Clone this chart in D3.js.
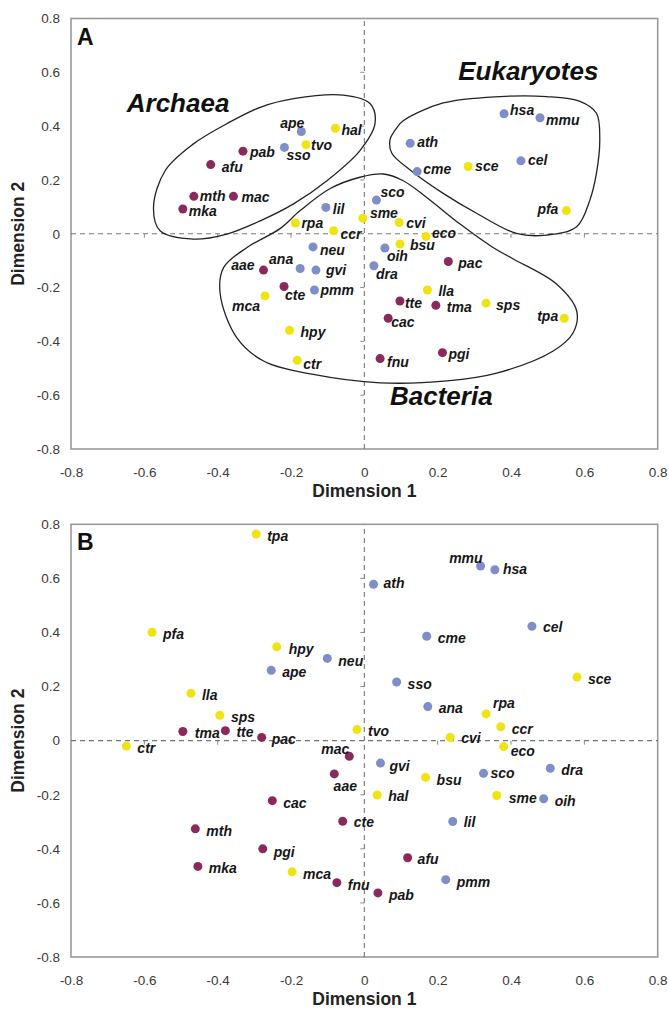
<!DOCTYPE html>
<html>
<head>
<meta charset="utf-8">
<script src="https://cdn.jsdelivr.net/npm/d3@7"></script>
<style>
  html, body { margin: 0; padding: 0; background: #fff; }
  svg { display: block; font-family: "Liberation Sans", Arial, Helvetica, sans-serif; }
</style>
</head>
<body>
<svg id="chart" width="669" height="1010"></svg>
<script>
// ---------------- DATA ----------------
const organisms = ["afu","pab","mth","mac","mka","aae","cte","tte","tma","cac","pac","pgi","fnu",
  "ape","sso","lil","neu","ana","gvi","pmm","oih","dra","sco","hsa","mmu","ath","cme","cel",
  "hal","tvo","rpa","ccr","sme","cvi","eco","bsu","lla","sps","tpa","mca","hpy","ctr","sce","pfa"];
const colorClass = ["c1","c1","c1","c1","c1","c1","c1","c1","c1","c1","c1","c1","c1",
  "c2","c2","c2","c2","c2","c2","c2","c2","c2","c2","c2","c2","c2","c2","c2",
  "c3","c3","c3","c3","c3","c3","c3","c3","c3","c3","c3","c3","c3","c3","c3","c3"];
// Panel A
const dimA1 = [-0.419,-0.331,-0.465,-0.357,-0.495,-0.275,-0.219,0.097,0.195,0.065,0.229,0.213,0.043,
  -0.172,-0.218,-0.105,-0.140,-0.175,-0.132,-0.136,0.056,0.026,0.033,0.381,0.479,0.125,0.144,0.427,
  -0.079,-0.159,-0.188,-0.084,-0.004,0.095,0.168,0.097,0.172,0.332,0.545,-0.271,-0.204,-0.183,0.283,0.551];
const dimA2 = [0.257,0.307,0.139,0.139,0.092,-0.135,-0.196,-0.250,-0.266,-0.314,-0.103,-0.442,-0.464,
  0.380,0.321,0.098,-0.049,-0.129,-0.135,-0.209,-0.053,-0.119,0.125,0.446,0.431,0.336,0.231,0.271,
  0.392,0.331,0.040,0.011,0.058,0.042,-0.010,-0.038,-0.209,-0.258,-0.314,-0.231,-0.359,-0.470,0.250,0.086];
// Panel B
const dimB1 = [0.118,0.037,-0.461,-0.041,-0.454,-0.082,-0.059,-0.379,-0.495,-0.251,-0.280,-0.277,-0.075,
  -0.254,0.088,0.241,-0.101,0.173,0.044,0.222,0.489,0.507,0.325,0.356,0.317,0.025,0.170,0.457,
  0.035,-0.020,0.332,0.372,0.361,0.234,0.380,0.167,-0.473,-0.394,-0.295,-0.197,-0.239,-0.649,0.580,-0.579];
const dimB2 = [-0.433,-0.563,-0.326,-0.058,-0.465,-0.123,-0.298,0.037,0.034,-0.222,0.012,-0.400,-0.525,
  0.260,0.217,-0.299,0.304,0.126,-0.083,-0.514,-0.215,-0.102,-0.121,0.632,0.646,0.578,0.386,0.423,
  -0.201,0.041,0.099,0.051,-0.203,0.012,-0.022,-0.136,0.175,0.094,0.764,-0.485,0.347,-0.020,0.235,0.401];

const tickValues = [-0.8,-0.6,-0.4,-0.2,0,0.2,0.4,0.6,0.8];
const tickLabels = ["-0.8","-0.6","-0.4","-0.2","0","0.2","0.4","0.6","0.8"];

// Group outlines (panel A), in data units
const archaeaOutline = [[-0.466,0.334],[-0.375,0.409],[-0.284,0.470],[-0.193,0.502],[-0.057,0.515],
  [0.016,0.483],[0.029,0.409],[-0.012,0.309],[-0.102,0.197],[-0.193,0.111],[-0.284,0.048],
  [-0.375,-0.001],[-0.466,-0.020],[-0.557,0.011],[-0.575,0.098],[-0.543,0.235]];
const eukaryoteOutline = [[0.106,0.420],[0.215,0.486],[0.370,0.510],[0.497,0.510],[0.588,0.492],
  [0.633,0.448],[0.642,0.349],[0.633,0.225],[0.615,0.125],[0.579,0.026],[0.497,-0.005],[0.415,0.001],
  [0.306,0.076],[0.215,0.150],[0.125,0.237],[0.075,0.299],[0.070,0.349],[0.088,0.393]];
const bacteriaOutline = [[-0.012,0.210],[0.052,0.222],[0.106,0.197],[0.170,0.135],[0.261,0.036],
  [0.351,-0.051],[0.405,-0.093],[0.524,-0.187],[0.579,-0.287],[0.569,-0.369],[0.515,-0.436],
  [0.361,-0.518],[0.225,-0.547],[0.043,-0.554],[-0.139,-0.523],[-0.275,-0.473],[-0.348,-0.386],
  [-0.393,-0.225],[-0.384,-0.126],[-0.320,-0.051],[-0.230,0.019],[-0.175,0.086],[-0.093,0.168]];
const groupNames = ["Archaea","Eukaryotes","Bacteria"];
const groupAnchors = [[-0.648,0.453],[0.256,0.572],[0.070,-0.638]];

// ---------------- LAYOUT / STYLE ----------------
const colors = { c1: "#8a2a5c", c2: "#7f8dc8", c3: "#f0e312" };
const plotX = [71, 657.7];
const panels = [
  { letter: "A", y: [449, 18.5], d1: dimA1, d2: dimA2, outlines: true,
    def: [7, 1, "start"],
    lab: { ape:[-9,-8,"middle"], hal:[6,2], tvo:[5,0], sso:[2,8], pab:[7,1], afu:[11,2], mth:[6,0],
      mac:[8,1], mka:[6,2], lil:[7,2], rpa:[6,0], ccr:[7,3], sme:[7,-5], neu:[7,3], hsa:[6,-4],
      mmu:[6,2], ath:[7,-1], cel:[7,-1], cme:[6,-2], sce:[7,0], pfa:[-8,-2,"end"], sco:[4,-8],
      cvi:[7,1], eco:[6,-3], bsu:[10,1], aae:[-9,-5,"end"], ana:[-7,-9,"end"], gvi:[10,0],
      cte:[1,9], pmm:[6,0], mca:[-5,10,"end"], hpy:[11,2], ctr:[6,4], oih:[2,8], dra:[2,8],
      pac:[10,2], lla:[11,1], tte:[5,2], tma:[11,2], sps:[10,2], tpa:[-6,-2,"end"], cac:[3,4],
      pgi:[6,1], fnu:[7,4] } },
  { letter: "B", y: [957, 524.3], d1: dimB1, d2: dimB2, outlines: false,
    def: [11, 2, "start"],
    lab: { mac:[0,-7,"end"], mmu:[2,-8,"end"], hsa:[8,-1], ath:[10,-1], cel:[11,1], rpa:[7,-11],
      eco:[7,5], gvi:[9,3], aae:[11,12,"middle"], sco:[7,0], tte:[11,1], pac:[10,2], cvi:[11,1],
      hal:[11,1], cte:[11,1], lil:[11,1], afu:[10,1], neu:[11,3], pgi:[11,3], bsu:[11,3],
      sme:[12,3], hpy:[12,2], tma:[12,2] } }
];

const svg = d3.select("#chart");

panels.forEach((p, pi) => {
  const x = d3.scaleLinear().domain([-0.8, 0.8]).range(plotX);
  const y = d3.scaleLinear().domain([-0.8, 0.8]).range(p.y);
  const g = svg.append("g");

  // frame
  g.append("rect")
    .attr("x", plotX[0]).attr("y", p.y[1])
    .attr("width", plotX[1] - plotX[0]).attr("height", p.y[0] - p.y[1])
    .attr("fill", "none").attr("stroke", "#9a9a9a").attr("stroke-width", 1.6);

  // axes (labels only)
  const fmt = d => tickLabels[tickValues.indexOf(d)];
  const ax = g.append("g").attr("transform", `translate(0,${p.y[0]})`)
    .call(d3.axisBottom(x).tickValues(tickValues).tickFormat(fmt).tickSize(0).tickPadding(0));
  ax.select(".domain").remove();
  ax.selectAll("text").attr("y", 23).attr("dy", "0.35em")
    .attr("font-size", 13.5).attr("fill", "#3a3a3a").attr("font-family", null);
  const ay = g.append("g").attr("transform", `translate(${plotX[0]},0)`)
    .call(d3.axisLeft(y).tickValues(tickValues).tickFormat(fmt).tickSize(0).tickPadding(11));
  ay.select(".domain").remove();
  ay.selectAll("text").attr("font-size", 13.5).attr("fill", "#3a3a3a").attr("font-family", null);

  // dashed zero lines
  g.append("line").attr("x1", x(-0.8)).attr("x2", x(0.8)).attr("y1", y(0)).attr("y2", y(0))
    .attr("stroke", "#777").attr("stroke-width", 1.1).attr("stroke-dasharray", "5,4");
  g.append("line").attr("x1", x(0)).attr("x2", x(0)).attr("y1", y(-0.8)).attr("y2", y(0.8))
    .attr("stroke", "#777").attr("stroke-width", 1.1).attr("stroke-dasharray", "5,4");
  // small ticks on the zero lines
  const inner = tickValues.filter(v => v !== 0 && Math.abs(v) < 0.8);
  g.selectAll(".tx").data(inner).enter().append("line")
    .attr("x1", d => x(d)).attr("x2", d => x(d)).attr("y1", y(0)).attr("y2", y(0) + 4)
    .attr("stroke", "#888").attr("stroke-width", 1);
  g.selectAll(".ty").data(inner).enter().append("line")
    .attr("x1", x(0) - 4).attr("x2", x(0)).attr("y1", d => y(d)).attr("y2", d => y(d))
    .attr("stroke", "#888").attr("stroke-width", 1);

  // axis titles
  g.append("text").attr("x", (plotX[0] + plotX[1]) / 2).attr("y", p.y[0] + 42)
    .attr("dy", "0.35em").attr("text-anchor", "middle").attr("font-weight", "bold")
    .attr("font-size", 17.5).attr("fill", "#222").text("Dimension 1");
  g.append("text").attr("transform", `translate(18,${(p.y[0] + p.y[1]) / 2}) rotate(-90)`)
    .attr("dy", "0.35em").attr("text-anchor", "middle").attr("font-weight", "bold")
    .attr("font-size", 17.5).attr("fill", "#222").text("Dimension 2");

  // panel letter
  g.append("text").attr("x", plotX[0] + 6).attr("y", p.y[1] + 26)
    .attr("font-weight", "bold").attr("font-size", 23).attr("fill", "#111").text(p.letter);

  // outlines
  if (p.outlines) {
    const line = d3.line().x(d => x(d[0])).y(d => y(d[1])).curve(d3.curveCatmullRomClosed.alpha(0.5));
    [archaeaOutline, eukaryoteOutline, bacteriaOutline].forEach(o => {
      g.append("path").attr("d", line(o)).attr("fill", "none")
        .attr("stroke", "#222").attr("stroke-width", 1.3);
    });
    groupNames.forEach((n, i) => {
      g.append("text").attr("x", x(groupAnchors[i][0])).attr("y", y(groupAnchors[i][1]))
        .attr("font-weight", "bold").attr("font-style", "italic").attr("font-size", 26)
        .attr("fill", "#111").text(n);
    });
  }

  // points
  const pts = organisms.map((n, i) => ({ n, c: colorClass[i], v1: p.d1[i], v2: p.d2[i] }));
  g.selectAll(".dot").data(pts).enter().append("circle")
    .attr("cx", d => x(d.v1)).attr("cy", d => y(d.v2)).attr("r", 4.5)
    .attr("fill", d => colors[d.c]);
  g.selectAll(".lbl").data(pts).enter().append("text")
    .attr("x", d => x(d.v1) + (p.lab[d.n] || p.def)[0])
    .attr("y", d => y(d.v2) + (p.lab[d.n] || p.def)[1])
    .attr("dy", "0.35em")
    .attr("text-anchor", d => (p.lab[d.n] || p.def)[2] || "start")
    .attr("font-weight", "bold").attr("font-style", "italic").attr("font-size", 14)
    .attr("fill", "#161616").text(d => d.n);
});
</script>
</body>
</html>
